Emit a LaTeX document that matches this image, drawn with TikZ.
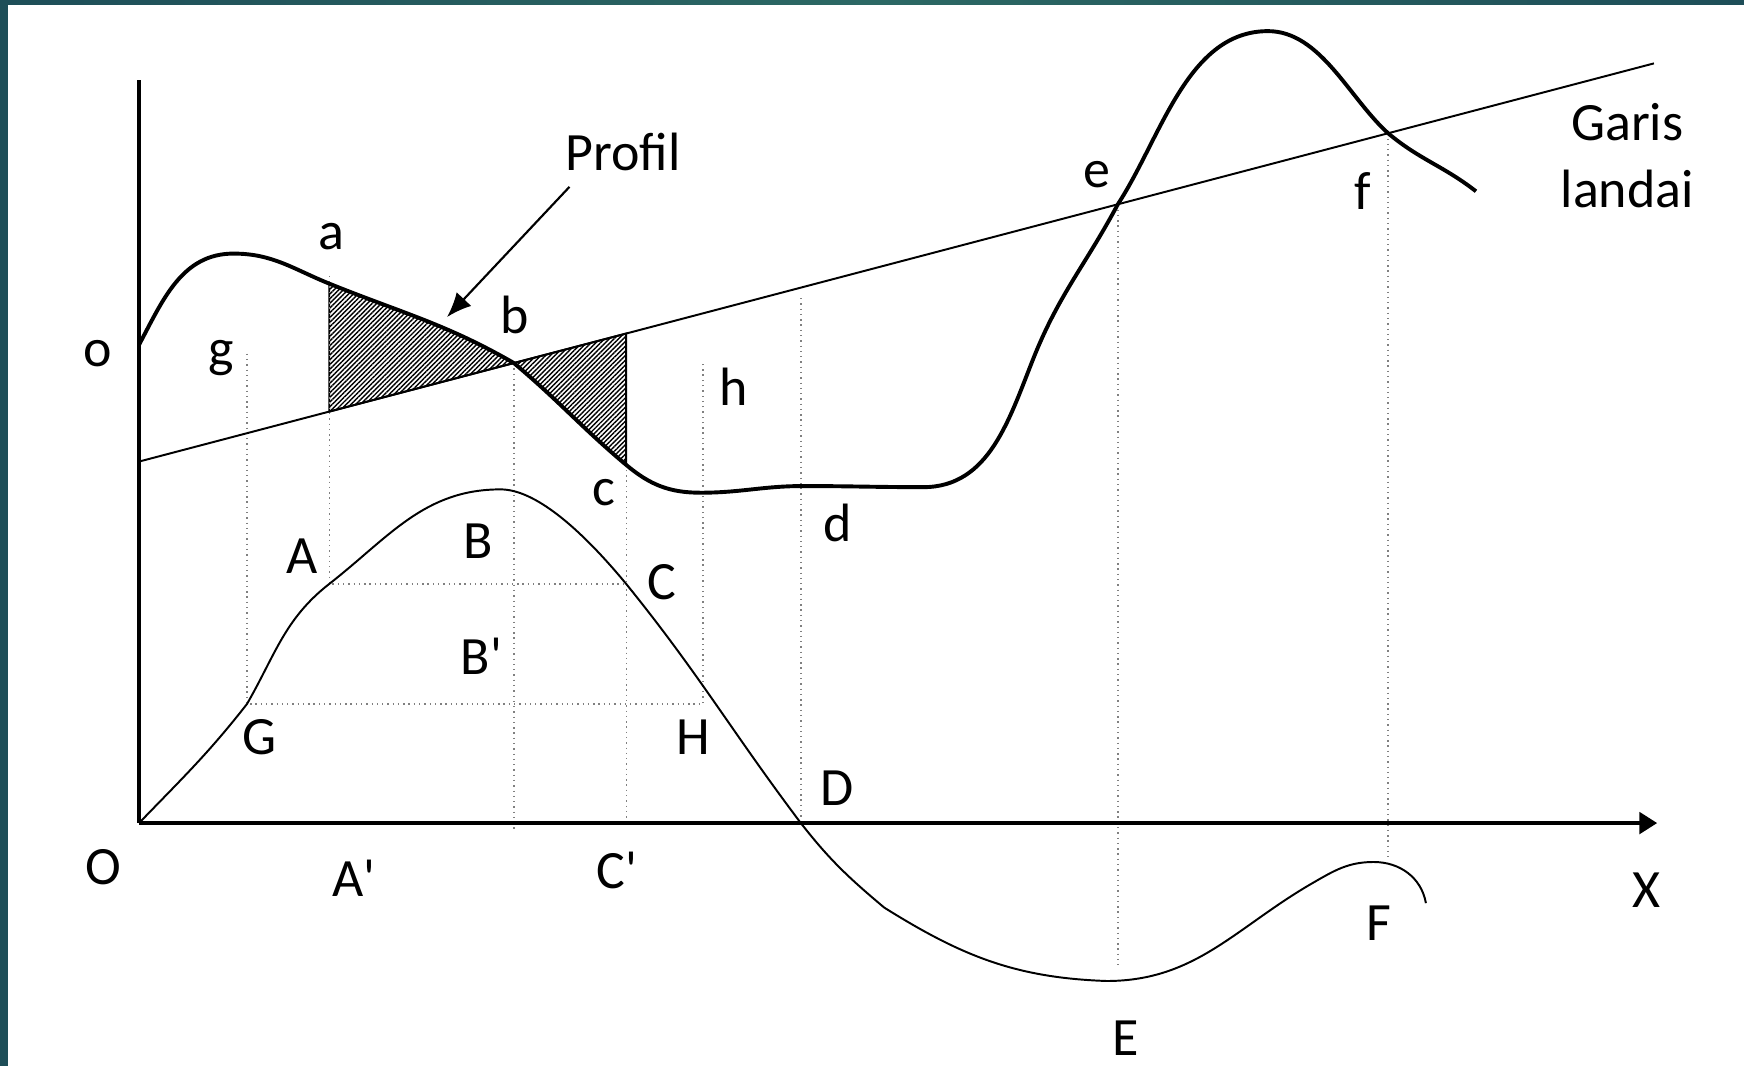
\documentclass[tikz,border=0pt]{standalone}
\usepackage{fontspec}
\setmainfont{Carlito}
\usetikzlibrary{arrows.meta,patterns.meta}
\definecolor{tealbar}{RGB}{30,78,88}
\definecolor{tealmid}{RGB}{44,104,100}
\begin{document}
\begin{tikzpicture}[every node/.style={font=\fontsize{13.8}{17}\selectfont}]
  \tikzstyle{prof}=[line width=1pt]
  \tikzstyle{mass}=[line width=0.5pt]
  \tikzstyle{guide}=[densely dotted,gray,line width=0.35pt]
  \tikzstyle{hatch}=[draw,line width=0.5pt,pattern={Lines[angle=45,distance=0.85pt,line width=0.36pt]}]
  \useasboundingbox (0,0) rectangle (15.68,9.58);
  \fill[tealbar] (0,0) rectangle (0.069,9.58);
  \shade[left color=tealbar,right color=tealbar,middle color=tealmid] (0,9.535) rectangle (15.68,9.58);
  % profil points
  \coordinate (o) at (1.25,6.48);
  \coordinate (p1) at (2.10,7.30);
  \coordinate (a) at (2.96,7.03);
  \coordinate (b) at (4.62,6.316);
  \coordinate (c) at (5.63,5.40);
  \coordinate (t1) at (6.30,5.15);
  \coordinate (t2) at (7.22,5.21);
  \coordinate (t3) at (8.30,5.20);
  \coordinate (t4) at (9.30,6.38);
  \coordinate (e) at (10.05,7.743);
  \coordinate (p2) at (11.40,9.30);
  \coordinate (f) at (12.48,8.382);
  \coordinate (pend) at (13.27,7.86);
  % garis landai
  \coordinate (g0) at (1.25,5.43);
  \coordinate (g1) at (14.87,9.01);
  \coordinate (la) at (2.96,5.879);
  \coordinate (lc) at (5.63,6.581);
  % mass curve points
  \coordinate (O) at (1.25,2.18);
  \coordinate (G) at (2.22,3.25);
  \coordinate (A) at (2.96,4.33);
  \coordinate (B) at (4.50,5.18);
  \coordinate (C) at (5.63,4.33);
  \coordinate (H) at (6.32,3.25);
  \coordinate (D) at (7.20,2.18);
  \coordinate (k) at (7.95,1.42);
  \coordinate (E) at (9.95,0.76);
  \coordinate (q) at (11.80,1.64);
  \coordinate (F) at (12.35,1.83);
  \coordinate (mend) at (12.82,1.46);
  \coordinate (Xend) at (14.90,2.18);
  \coordinate (Ytop) at (1.25,8.86);
  % hatched areas
  \path[hatch] (a) to[out=-22,in=150] (b) -- (la) -- cycle;
  \path[hatch] (b) to[out=-40,in=140] (c) -- (lc) -- cycle;
  % dotted guides
  \draw[guide] (2.22,6.40) -- (G) -- (H) -- (6.32,6.33);
  \draw[guide] (2.96,7.10) -- (A) -- (C) -- (c);
  \draw[guide] (b) -- (4.62,2.13);
  \draw[guide] (C) -- (5.63,2.18);
  \draw[guide] (7.20,6.90) -- (D);
  \draw[guide] (e) -- (10.05,0.90);
  \draw[guide] (f) -- (12.48,1.88);
  % axes
  \draw[line width=1.1pt] (Ytop) -- (O);
  \draw[line width=1.1pt,-{Triangle[length=1.6mm,width=1.9mm]}] (O) -- (Xend);
  % garis landai
  \draw[line width=0.5pt] (g0) -- (g1);
  % profil
  \draw[prof] (o) to[out=62,in=180] (p1) to[out=0,in=158] (a) to[out=-22,in=150] (b)
    to[out=-40,in=140] (c) to[out=-40,in=180] (t1) to[out=0,in=180] (t2)
    to[out=0,in=180] (t3) .. controls (8.90,5.20) and (9.075,5.82) .. (t4)
    to[out=68,in=-118] (e) to[out=57,in=180,looseness=0.9] (p2)
    to[out=0,in=138,looseness=0.85] (f) to[out=-40,in=142] (pend);
  % mass curve
  \draw[mass] (O) to[out=46,in=-128] (G) to[out=60,in=-142] (A) to[out=38,in=180] (B)
    .. controls (4.80,5.18) and (5.20,4.85) .. (C) to[out=-51,in=127] (D)
    to[out=-52,in=140] (k) to[out=-32,in=178] (E) to[out=0,in=-150] (q)
    to[out=30,in=180] (F) to[out=0,in=100] (mend);
  % arrow to profil
  \node (prf) at (5.60,8.21) {Profil};
  \coordinate (ptail) at (5.12,7.90);
  \coordinate (ptip) at (4.02,6.73);
  \draw[line width=0.55pt,-{Latex[length=2.2mm,width=1.8mm]}] (ptail) -- (ptip);
  \node[align=center] (grs) at (14.63,8.18) {Garis\\landai};
  % labels
  \node (lo) at (0.88,6.40) {o};
  \node (lO) at (0.93,1.78) {O};
  \node (lX) at (14.80,1.58) {X};
  \node (la1) at (2.98,7.45) {a};
  \node (lb) at (4.63,6.75) {b};
  \node (lc1) at (5.43,5.15) {c};
  \node (ld) at (7.53,4.88) {d};
  \node (le) at (9.86,8.01) {e};
  \node (lf) at (12.25,7.86) {f};
  \node (lg) at (1.99,6.36) {g};
  \node (lh) at (6.60,6.10) {h};
  \node (lA) at (2.72,4.58) {A};
  \node (lB) at (4.30,4.71) {B};
  \node (lB2) at (4.33,3.68) {B\textquotesingle};
  \node (lC) at (5.95,4.35) {C};
  \node (lG) at (2.33,2.95) {G};
  \node (lH) at (6.23,2.95) {H};
  \node (lD) at (7.53,2.49) {D};
  \node (lE) at (10.12,0.25) {E};
  \node (lF) at (12.40,1.28) {F};
  \node (lA2) at (3.18,1.68) {A\textquotesingle};
  \node (lC2) at (5.55,1.75) {C\textquotesingle};
\end{tikzpicture}
\end{document}
